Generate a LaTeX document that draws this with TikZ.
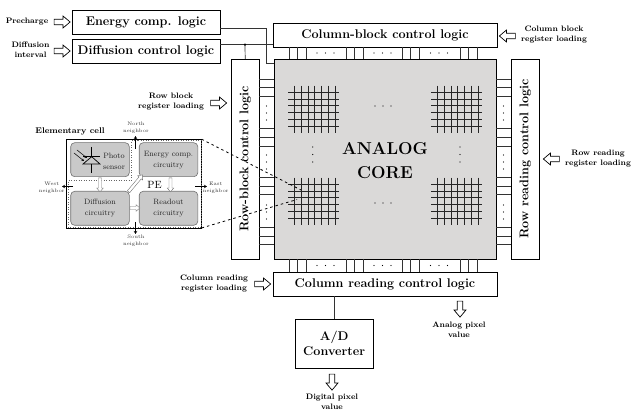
\documentclass[tikz,border=0pt]{standalone}
\usepackage{tikz}
\definecolor{acCore}{HTML}{DAD9D8}
\definecolor{acCell}{HTML}{C9C9C9}
\definecolor{acEdge}{HTML}{707070}
\usetikzlibrary{arrows.meta,shapes.arrows}

\begin{document}
\begin{tikzpicture}[
  x=1pt,y=-1pt,
  blk/.style={draw=black,line width=0.7pt,fill=white,inner sep=0pt,outer sep=0pt,
              font=\fontsize{12.6}{14}\selectfont\bfseries},
  lbl/.style={font=\fontsize{7.9}{10}\selectfont\bfseries,align=center,inner sep=0pt},
  tiny/.style={font=\fontsize{5}{7}\selectfont,text=black!80,align=center,inner sep=0pt},
  cellbox/.style={draw=acEdge,line width=0.6pt,fill=acCell,rounded corners=4pt,
                  minimum width=58.6pt,minimum height=34pt,inner sep=0pt,outer sep=0pt,
                  align=center,text=black!85,font=\fontsize{7.7}{11}\selectfont},
  wire/.style={black!80,line width=0.7pt},
  gridline/.style={black!85,line width=0.8pt},
  bigarr/.style={single arrow,draw=black,fill=white,line width=0.7pt,inner sep=2.4pt,outer sep=0pt,
                 single arrow head extend=3.2pt,single arrow tip angle=80,minimum height=16pt},
  smallarr/.style={single arrow,draw=black!55,fill=white,line width=0.4pt,inner sep=1.3pt,outer sep=0pt,
                 single arrow head extend=1.8pt,single arrow tip angle=80},
  nbarr/.style={-{Stealth[length=3pt,width=3.5pt]},line width=0.7pt},
  vdot/.style={circle,fill=black,inner sep=0.45pt}
]
\useasboundingbox (0,0) rectangle (631,411);
% logic blocks
\node[blk,minimum width=148pt,minimum height=24pt] (energy) at (146,22) {Energy comp. logic};
\node[blk,minimum width=148pt,minimum height=23.5pt] (diffusion) at (146,51.5) {Diffusion control logic};
\node[blk,minimum width=224pt,minimum height=24pt] (colblock) at (385,35) {Column-block control logic};
\node[blk,minimum width=224pt,minimum height=24pt] (colread) at (385,284) {Column reading control logic};
\node[blk,minimum width=200pt,minimum height=28.5pt,rotate=90] (rowblock) at (245.2,159) {Row-block control logic};
\node[blk,minimum width=200pt,minimum height=28.5pt,rotate=90] (rowread) at (525.2,159) {Row reading control logic};
\node[blk,minimum width=78.5pt,minimum height=49.5pt,align=center] (adc) at (334.2,343.7) {A/D\\[1pt]Converter};
\node[draw=black,line width=0.7pt,fill=acCore,minimum width=222pt,minimum height=200pt,inner sep=0pt,outer sep=0pt] (core) at (385,159) {};
\node[align=center,inner sep=0pt,font=\fontsize{17.2}{24}\selectfont\bfseries] (corelbl) at (385,161) {ANALOG\\CORE};
% top wires
\coordinate (ejog) at (266.5,63);
\coordinate (dtap) at (245,44.7);
\draw[wire] (energy.east |- 0,28) -| (ejog) -- (core.west |- ejog);
\draw[wire] (diffusion.east |- dtap) -- (colblock.west |- dtap);
\draw[wire] (dtap) -- (rowblock.east);
\fill (dtap) circle (1.3pt);
\draw[wire] (adc.north) -- (colread.south -| adc.north);
% links to the core
\foreach \x in {0,57,113,171}{
  \foreach \d in {289,297.6,306}{
    \draw[wire] (colblock.south -| \d+\x,0) -- (core.north -| \d+\x,0);
    \draw[wire] (core.south -| \d+\x,0) -- (colread.north -| \d+\x,0);
  }
}
\foreach \x in {317,374,430.5}{
  \foreach \d in {0,8.5,17}{
    \node[vdot] at (\x+\d,53) {};
    \node[vdot] at (\x+\d,265.5) {};
  }
}
\foreach \y in {79,87,96,128,137,146,177,186,194,227,236,244}{
  \draw[wire] (rowblock.south |- 0,\y) -- (core.west |- 0,\y);
  \draw[wire] (core.east |- 0,\y) -- (rowread.north |- 0,\y);
}
\foreach \y in {106,155,205}{
  \foreach \d in {0,7,14}{
    \node[vdot] at (266.5,\y+\d) {};
    \node[vdot] at (503.5,\y+\d) {};
  }
}
% pixel arrays
\foreach \ox in {0,143}{
  \foreach \oy in {0,92}{
    \foreach \d in {0,6.7,13.4,20,26.8,33.6,40.2}
      \draw[gridline] (294.7+\ox+\d,85.7+\oy) -- (294.7+\ox+\d,133+\oy);
    \foreach \d in {0,6.7,13.4,20,27,33.7}
      \draw[gridline] (288+\ox,92.3+\oy+\d) -- (339+\ox,92.3+\oy+\d);
  }
}
\foreach \y in {106,203}
  \foreach \x in {375,383,391}
    \node[vdot] at (\x,\y) {};
\foreach \y in {147,154.5,162}{
  \node[vdot] at (312.7,\y) {};
  \node[vdot] at (460,\y) {};
}
% elementary cell
\node[lbl,font=\fontsize{8.3}{10}\selectfont\bfseries] (celltitle) at (70,131) {Elementary cell};
\node[draw=black,line width=0.8pt,minimum width=135pt,minimum height=88.7pt,inner sep=0pt,outer sep=0pt] (cell) at (134.2,183.6) {};
\node[cellbox] (photo) at (100,159.7) {};
\node[cellbox] (ecirc) at (168.5,159.7) {Energy comp.\\circuitry};
\node[cellbox] (dcirc) at (100,208.3) {Diffusion\\circuitry};
\node[cellbox] (rcirc) at (168.5,208.3) {Readout\\circuitry};
\node[align=center,inner sep=0pt,text=black!85,font=\fontsize{7.7}{11}\selectfont] (photolbl) at (114,161) {Photo\\sensor};
\node[inner sep=0pt,font=\fontsize{10.5}{12}\selectfont] (pe) at (154.5,185) {PE};
\draw[black!60,line width=0.5pt,dotted] (138,140.7) -- (201,140.7) -- (201,227.3) -- (68.3,227.3) -- (68.3,180) -- (131.7,180) -- (131.7,140.7) -- cycle;
% photodiode
\draw[line width=0.7pt] (91.7,147) -- (91.7,156.7) (83,156.7) -- (100,156.7) (91.7,164) -- (91.7,173);
\draw[line width=0.7pt] (91.7,156.7) -- (83,164) -- (100,164) -- cycle;
\draw[-{Stealth[length=2.5pt,width=2.5pt]},line width=0.5pt] (74,153) -- (84,161);
\draw[-{Stealth[length=2.5pt,width=2.5pt]},line width=0.5pt] (77,150) -- (87,158);
% cell arrows
\node[smallarr,minimum height=14pt,rotate=-90] (pd) at (100,184) {};
\node[smallarr,minimum height=14pt,rotate=-90] (er) at (170.5,184) {};
\node[smallarr,minimum height=10pt] (dr) at (134,208) {};
\node[smallarr,minimum height=22pt,rotate=50] (de) at (135,184) {};
% neighbours
\node[tiny] (north) at (136,127.5) {North\\neighbor};
\node[tiny] (south) at (136,240.5) {South\\neighbor};
\node[tiny] (west) at (51.7,188) {West\\neighbor};
\node[tiny] (east) at (215.7,188) {East\\neighbor};
\coordinate (ntip) at (135.5,136);
\coordinate (stip) at (135.5,234);
\coordinate (wtip) at (62,186.5);
\coordinate (etip) at (207,186.5);
\draw[nbarr] (135.5,149) -- (ntip);
\draw[nbarr] (135.5,222) -- (stip);
\draw[nbarr] (73,186.5) -- (wtip);
\draw[nbarr] (195,186.5) -- (etip);
% to the array
\coordinate (zoomA) at (301,190);
\coordinate (zoomB) at (297,199.5);
\draw[dash pattern=on 2.5pt off 3pt,line width=0.8pt] (cell.north east) -- (zoomA);
\draw[dash pattern=on 2.5pt off 3pt,line width=0.8pt] (cell.south east) -- (zoomB);
% outside labels
\node[lbl] (precharge) at (27,22) {Precharge};
\node[lbl] (difint) at (30.5,50) {Diffusion\\interval};
\node[lbl] (rowblbl) at (171,102) {Row block\\register loading};
\node[lbl] (colblbl) at (554,35) {Column block\\register loading};
\node[lbl] (rowrlbl) at (598,159) {Row reading\\register loading};
\node[lbl] (colrlbl) at (214,284) {Column reading\\register loading};
\node[lbl] (analog) at (459,329.5) {Analog pixel\\value};
\node[lbl] (digital) at (332,401.5) {Digital pixel\\value};
% input and output arrows
\node[bigarr] (arrpre) at (60.5,22) {};
\node[bigarr] (arrdif) at (60.5,51) {};
\node[bigarr] (arrrow) at (217,103) {};
\node[bigarr,rotate=180] (arrcol) at (509,36) {};
\node[bigarr,rotate=180] (arrrr) at (553,159) {};
\node[bigarr] (arrcr) at (261,284) {};
\node[bigarr,rotate=-90] (arrana) at (460,307.5) {};
\node[bigarr,rotate=-90] (arrdig) at (332,380.5) {};
\end{tikzpicture}
\end{document}
